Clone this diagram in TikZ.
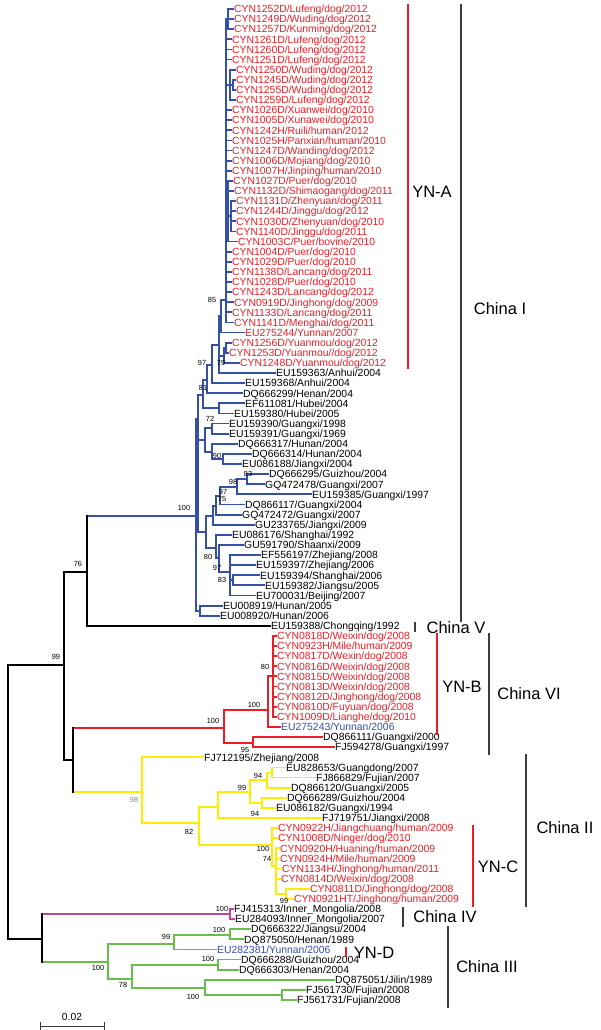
\documentclass[tikz,border=0pt]{standalone}
\usepackage{fontspec}
\setmainfont{Liberation Sans}
\usetikzlibrary{positioning}

\definecolor{cladeblue}{RGB}{52,80,168}
\definecolor{cladered}{RGB}{238,28,36}
\definecolor{cladeyellow}{RGB}{255,236,0}
\definecolor{cladegreen}{RGB}{104,190,72}
\definecolor{clademagenta}{RGB}{182,70,160}
\definecolor{bargray}{RGB}{60,60,60}

\tikzset{
  leaf/.style={anchor=west, inner sep=1pt, font=\fontsize{10.4}{11}\selectfont,
    text height=7.5pt, text depth=0pt},
  redtxt/.style={text=cladered},
  bluetxt/.style={text=cladeblue},
  blacktxt/.style={text=black},
  boot/.style={inner sep=0pt, font=\fontsize{7.4}{8}\selectfont},
  cladename/.style={inner sep=0pt, font=\fontsize{16.5}{18}\selectfont},
  branch/.style={line width=1.8pt, line cap=rect},
  bk/.style={branch, draw=black},
  bl/.style={branch, draw=cladeblue},
  rd/.style={branch, draw=cladered},
  yl/.style={branch, draw=cladeyellow},
  gn/.style={branch, draw=cladegreen},
  mgt/.style={branch, draw=clademagenta},
  groupbar/.style={line width=1.3pt, draw=bargray},
  ynbar/.style={line width=1.1pt, draw=cladered},
}

% one tip of the tree: index, x, text style, label
\newcommand{\tip}[4]{\node[leaf,#3] (t#1) at (#2,{9+(#1-1)*10.112}) {#4};}

\begin{document}
\begin{tikzpicture}[x=1pt, y=-1pt]
\useasboundingbox (0,0) rectangle (600,1030);

% Tips, China I
\tip{1}{233}{redtxt}{CYN1252D/Lufeng/dog/2012}
\tip{2}{233}{redtxt}{CYN1249D/Wuding/dog/2012}
\tip{3}{233}{redtxt}{CYN1257D/Kunming/dog/2012}
\tip{4}{231}{redtxt}{CYN1261D/Lufeng/dog/2012}
\tip{5}{231}{redtxt}{CYN1260D/Lufeng/dog/2012}
\tip{6}{231}{redtxt}{CYN1251D/Lufeng/dog/2012}
\tip{7}{235}{redtxt}{CYN1250D/Wuding/dog/2012}
\tip{8}{235}{redtxt}{CYN1245D/Wuding/dog/2012}
\tip{9}{235}{redtxt}{CYN1255D/Wuding/dog/2012}
\tip{10}{235}{redtxt}{CYN1259D/Lufeng/dog/2012}
\tip{11}{231}{redtxt}{CYN1026D/Xuanwei/dog/2010}
\tip{12}{231}{redtxt}{CYN1005D/Xunawei/dog/2010}
\tip{13}{231}{redtxt}{CYN1242H/Ruili/human/2012}
\tip{14}{231}{redtxt}{CYN1025H/Panxian/human/2010}
\tip{15}{231}{redtxt}{CYN1247D/Wanding/dog/2012}
\tip{16}{231}{redtxt}{CYN1006D/Mojiang/dog/2010}
\tip{17}{231}{redtxt}{CYN1007H/Jinping/human/2010}
\tip{18}{232}{redtxt}{CYN1027D/Puer/dog/2010}
\tip{19}{233}{redtxt}{CYN1132D/Shimaogang/dog/2011}
\tip{20}{235}{redtxt}{CYN1131D/Zhenyuan/dog/2011}
\tip{21}{235}{redtxt}{CYN1244D/Jinggu/dog/2012}
\tip{22}{235}{redtxt}{CYN1030D/Zhenyuan/dog/2010}
\tip{23}{235}{redtxt}{CYN1140D/Jinggu/dog/2011}
\tip{24}{237}{redtxt}{CYN1003C/Puer/bovine/2010}
\tip{25}{231}{redtxt}{CYN1004D/Puer/dog/2010}
\tip{26}{231}{redtxt}{CYN1029D/Puer/dog/2010}
\tip{27}{231}{redtxt}{CYN1138D/Lancang/dog/2011}
\tip{28}{231}{redtxt}{CYN1028D/Puer/dog/2010}
\tip{29}{231}{redtxt}{CYN1243D/Lancang/dog/2012}
\tip{30}{233}{redtxt}{CYN0919D/Jinghong/dog/2009}
\tip{31}{231}{redtxt}{CYN1133D/Lancang/dog/2011}
\tip{32}{233}{redtxt}{CYN1141D/Menghai/dog/2011}
\tip{33}{244}{redtxt}{EU275244/Yunnan/2007}
\tip{34}{231}{redtxt}{CYN1256D/Yuanmou/dog/2012}
\tip{35}{228}{redtxt}{CYN1253D/Yuanmou//dog/2012}
\tip{36}{239}{redtxt}{CYN1248D/Yuanmou/dog/2012}
\tip{37}{275}{blacktxt}{EU159363/Anhui/2004}
\tip{38}{244}{blacktxt}{EU159368/Anhui/2004}
\tip{39}{242}{blacktxt}{DQ666299/Henan/2004}
\tip{40}{244}{blacktxt}{EF611081/Hubei/2004}
\tip{41}{233}{blacktxt}{EU159380/Hubei/2005}
\tip{42}{228}{blacktxt}{EU159390/Guangxi/1998}
\tip{43}{228}{blacktxt}{EU159391/Guangxi/1969}
\tip{44}{237}{blacktxt}{DQ666317/Hunan/2004}
\tip{45}{251}{blacktxt}{DQ666314/Hunan/2004}
\tip{46}{241}{blacktxt}{EU086188/Jiangxi/2004}
\tip{47}{268}{blacktxt}{DQ666295/Guizhou/2004}
\tip{48}{264}{blacktxt}{GQ472478/Guangxi/2007}
\tip{49}{311}{blacktxt}{EU159385/Guangxi/1997}
\tip{50}{244}{blacktxt}{DQ866117/Guangxi/2004}
\tip{51}{241}{blacktxt}{GQ472472/Guangxi/2007}
\tip{52}{254}{blacktxt}{GU233765/Jiangxi/2009}
\tip{53}{231}{blacktxt}{EU086176/Shanghai/1992}
\tip{54}{243}{blacktxt}{GU591790/Shaanxi/2009}
\tip{55}{260}{blacktxt}{EF556197/Zhejiang/2008}
\tip{56}{255}{blacktxt}{EU159397/Zhejiang/2006}
\tip{57}{259}{blacktxt}{EU159394/Shanghai/2006}
\tip{58}{264}{blacktxt}{EU159382/Jiangsu/2005}
\tip{59}{255}{blacktxt}{EU700031/Beijing/2007}
\tip{60}{222}{blacktxt}{EU008919/Hunan/2005}
\tip{61}{219}{blacktxt}{EU008920/Hunan/2006}
% China V
\tip{62}{270}{blacktxt}{EU159388/Chongqing/1992}
% China VI
\tip{63}{276}{redtxt}{CYN0818D/Weixin/dog/2008}
\tip{64}{276}{redtxt}{CYN0923H/Mile/human/2009}
\tip{65}{276}{redtxt}{CYN0817D/Wexin/dog/2008}
\tip{66}{276}{redtxt}{CYN0816D/Weixin/dog/2008}
\tip{67}{276}{redtxt}{CYN0815D/Weixin/dog/2008}
\tip{68}{276}{redtxt}{CYN0813D/Weixin/dog/2008}
\tip{69}{276}{redtxt}{CYN0812D/Jinghong/dog/2008}
\tip{70}{276}{redtxt}{CYN0810D/Fuyuan/dog/2008}
\tip{71}{276}{redtxt}{CYN1009D/Lianghe/dog/2010}
\tip{72}{280}{bluetxt}{EU275243/Yunnan/2006}
\tip{73}{322}{blacktxt}{DQ866111/Guangxi/2000}
\tip{74}{334}{blacktxt}{FJ594278/Guangxi/1997}
% China II
\tip{75}{203}{blacktxt}{FJ712195/Zhejiang/2008}
\tip{76}{285}{blacktxt}{EU828653/Guangdong/2007}
\tip{77}{315}{blacktxt}{FJ866829/Fujian/2007}
\tip{78}{290}{blacktxt}{DQ866120/Guangxi/2005}
\tip{79}{286}{blacktxt}{DQ666289/Guizhou/2004}
\tip{80}{275}{blacktxt}{EU086182/Guangxi/1994}
\tip{81}{321}{blacktxt}{FJ719751/Jiangxi/2008}
\tip{82}{277}{redtxt}{CYN0922H/Jiangchuang/human/2009}
\tip{83}{277}{redtxt}{CYN1008D/Ninger/dog/2010}
\tip{84}{279}{redtxt}{CYN0920H/Huaning/human/2009}
\tip{85}{279}{redtxt}{CYN0924H/Mile/human/2009}
\tip{86}{281}{redtxt}{CYN1134H/Jinghong/human/2011}
\tip{87}{280}{redtxt}{CYN0814D/Weixin/dog/2008}
\tip{88}{309}{redtxt}{CYN0811D/Jinghong/dog/2008}
\tip{89}{293}{redtxt}{CYN0921HT/Jinghong/human/2009}
% China IV
\tip{90}{233}{blacktxt}{FJ415313/Inner\_Mongolia/2008}
\tip{91}{234}{blacktxt}{EU284093/Inner\_Mongolia/2007}
% China III
\tip{92}{250}{blacktxt}{DQ666322/Jiangsu/2004}
\tip{93}{243}{blacktxt}{DQ875050/Henan/1989}
\tip{94}{216}{bluetxt}{EU282381/Yunnan/2006}
\tip{95}{240}{blacktxt}{DQ666288/Guizhou/2004}
\tip{96}{238}{blacktxt}{DQ666303/Henan/2004}
\tip{97}{334}{blacktxt}{DQ875051/Jilin/1989}
\tip{98}{305}{blacktxt}{FJ561730/Fujian/2008}
\tip{99}{296}{blacktxt}{FJ561731/Fujian/2008}

% Internal nodes
\coordinate (root) at (8,802);
\coordinate (n99) at (64,665);
\coordinate (n76) at (87,572);
\coordinate (nC) at (73,760);
\coordinate (nG) at (42,939);
% China I
\coordinate (cI) at (196,516);
\coordinate (cA) at (198,419);
\coordinate (cH) at (200,611);
\coordinate (cB) at (203,395);
\coordinate (c81) at (207,380);
\coordinate (c97) at (212,365);
\coordinate (cU) at (219,345);
\coordinate (c85) at (221,316);
\coordinate (c79) at (224,356);
\coordinate (yY) at (226,348);
\coordinate (yA) at (226,300);
\coordinate (s1) at (228,19);
\coordinate (s2) at (230,85);
\coordinate (s2a) at (233,85);
\coordinate (s3) at (228,205);
\coordinate (s3a) at (231,216);
\coordinate (hb) at (219,408);
\coordinate (g72) at (205,440);
\coordinate (gx) at (212,428);
\coordinate (gD) at (212,452);
\coordinate (g90) at (223,459);
\coordinate (gL) at (206,532);
\coordinate (gG) at (213,516);
\coordinate (n75) at (216,506);
\coordinate (n97b) at (220,496);
\coordinate (n98) at (237,487);
\coordinate (n83) at (247,479);
\coordinate (n53) at (216,548);
\coordinate (n80) at (219,558);
\coordinate (n97c) at (230,572);
\coordinate (n83c) at (233,580);
% China VI
\coordinate (rB) at (224,728);
\coordinate (r100) at (268,710);
\coordinate (r80) at (273,676);
\coordinate (r95) at (253,743);
% China II
\coordinate (y98) at (142,792);
\coordinate (y82) at (199,823);
\coordinate (yT) at (218,807);
\coordinate (y99) at (250,792);
\coordinate (y94a) at (267,780);
\coordinate (yEF) at (272,773);
\coordinate (y94b) at (262,803);
\coordinate (yC) at (272,845);
\coordinate (y74) at (276,866);
\coordinate (y99c) at (286,894);
% China IV and III
\coordinate (mA) at (230,914);
\coordinate (gr) at (108,962);
\coordinate (g99) at (174,944);
\coordinate (g100a) at (230,935);
\coordinate (g78) at (132,979);
\coordinate (g100b) at (218,965);
\coordinate (g100c) at (205,988);
\coordinate (gF) at (282,995);

% Branches
\foreach \c in {s1,t4,t5,t6,s2,t11,t12,t13,t14,t15,t16,t17,s3,t25,t26,t27,t28,t29,t30,t31,t32}
  \draw[bl] (yA) |- (\c);
\foreach \c in {t1,t2,t3} \draw[bl] (s1) |- (\c);
\foreach \c in {t7,s2a,t10} \draw[bl] (s2) |- (\c);
\foreach \c in {t8,t9} \draw[bl] (s2a) |- (\c);
\foreach \c in {t18,t19,s3a,t24} \draw[bl] (s3) |- (\c);
\foreach \c in {t20,t21,t22,t23} \draw[bl] (s3a) |- (\c);
\foreach \c in {yA,t33} \draw[bl] (c85) |- (\c);
\foreach \c in {t34,t35} \draw[bl] (yY) |- (\c);
\foreach \c in {yY,t36} \draw[bl] (c79) |- (\c);
\foreach \c in {c85,c79,t37} \draw[bl] (cU) |- (\c);
\foreach \c in {cU,t38} \draw[bl] (c97) |- (\c);
\foreach \c in {c97,t39} \draw[bl] (c81) |- (\c);
\foreach \c in {t40,t41} \draw[bl] (hb) |- (\c);
\foreach \c in {c81,hb} \draw[bl] (cB) |- (\c);
\foreach \c in {t42,t43} \draw[bl] (gx) |- (\c);
\foreach \c in {t45,t46} \draw[bl] (g90) |- (\c);
\foreach \c in {t44,g90} \draw[bl] (gD) |- (\c);
\foreach \c in {gx,gD} \draw[bl] (g72) |- (\c);
\foreach \c in {t47,t48} \draw[bl] (n83) |- (\c);
\foreach \c in {n83,t49} \draw[bl] (n98) |- (\c);
\foreach \c in {n98,t50} \draw[bl] (n97b) |- (\c);
\foreach \c in {n97b,t51} \draw[bl] (n75) |- (\c);
\foreach \c in {n75,t52} \draw[bl] (gG) |- (\c);
\foreach \c in {t57,t58} \draw[bl] (n83c) |- (\c);
\foreach \c in {t55,t56,n83c,t59} \draw[bl] (n97c) |- (\c);
\foreach \c in {t54,n97c} \draw[bl] (n80) |- (\c);
\foreach \c in {t53,n80} \draw[bl] (n53) |- (\c);
\foreach \c in {gG,n53} \draw[bl] (gL) |- (\c);
\foreach \c in {cB,g72,gL} \draw[bl] (cA) |- (\c);
\foreach \c in {t60,t61} \draw[bl] (cH) |- (\c);
\foreach \c in {cA,cH} \draw[bl] (cI) |- (\c);

\foreach \c in {t63,t64,t65,t66,t67,t68,t69,t70,t71} \draw[rd] (r80) |- (\c);
\foreach \c in {r80,t72} \draw[rd] (r100) |- (\c);
\foreach \c in {t73,t74} \draw[rd] (r95) |- (\c);
\foreach \c in {r100,r95} \draw[rd] (rB) |- (\c);

\foreach \c in {t76,t77} \draw[yl] (yEF) |- (\c);
\foreach \c in {yEF,t78} \draw[yl] (y94a) |- (\c);
\foreach \c in {t79,t80} \draw[yl] (y94b) |- (\c);
\foreach \c in {y94a,y94b} \draw[yl] (y99) |- (\c);
\foreach \c in {y99,t81} \draw[yl] (yT) |- (\c);
\foreach \c in {t88,t89} \draw[yl] (y99c) |- (\c);
\foreach \c in {t84,t85,t86,t87,y99c} \draw[yl] (y74) |- (\c);
\foreach \c in {t82,t83,y74} \draw[yl] (yC) |- (\c);
\foreach \c in {yT,yC} \draw[yl] (y82) |- (\c);
\foreach \c in {t75,y82} \draw[yl] (y98) |- (\c);

\foreach \c in {t90,t91} \draw[mgt] (mA) |- (\c);
\foreach \c in {t92,t93} \draw[gn] (g100a) |- (\c);
\foreach \c in {g100a,t94} \draw[gn] (g99) |- (\c);
\foreach \c in {t95,t96} \draw[gn] (g100b) |- (\c);
\foreach \c in {t98,t99} \draw[gn] (gF) |- (\c);
\foreach \c in {t97,gF} \draw[gn] (g100c) |- (\c);
\foreach \c in {g100b,g100c} \draw[gn] (g78) |- (\c);
\foreach \c in {g99,g78} \draw[gn] (gr) |- (\c);

% coloured stems off the black backbone
\draw[bl] (n76 |- cI) -- (cI);
\draw[rd] (nC |- rB) -- (rB);
\draw[yl] (nC |- y98) -- (y98);
\draw[mgt] (nG |- mA) -- (mA);
\draw[gn] (nG |- gr) -- (gr);

% Backbone
\draw[bk] (root) |- (n99);
\draw[bk] (root) |- (nG);
\draw[bk] (n99) |- (n76);
\draw[bk] (n99) |- (nC);
\draw[bk] (n76) |- (t62);
\draw[bk] (n76) -- (n76 |- cI);
\draw[bk] (nC |- rB) -- (nC |- y98);
\draw[bk] (nG |- mA) -- (nG |- gr);

% Bootstrap values
\node[boot] (bv1) at (212,300) {85};
\node[boot] (bv2) at (202,363) {97};
\node[boot] (bv3) at (221,363) {79};
\node[boot] (bv4) at (203,388) {81};
\node[boot] (bv5) at (210,419) {72};
\node[boot] (bv6) at (217,456) {90};
\node[boot] (bv7) at (248,474) {83};
\node[boot] (bv8) at (233,482) {98};
\node[boot] (bv9) at (223,492) {97};
\node[boot] (bv10) at (222,499) {75};
\node[boot] (bv11) at (184,508) {100};
\node[boot] (bv12) at (208,557) {80};
\node[boot] (bv13) at (217,568) {97};
\node[boot] (bv14) at (222,580) {83};
\node[boot] (bv15) at (78,564) {76};
\node[boot] (bv16) at (56,657) {99};
\node[boot] (bv17) at (265,667) {80};
\node[boot] (bv18) at (254,705) {100};
\node[boot] (bv19) at (213,721) {100};
\node[boot] (bv20) at (245,750) {95};
\node[boot, text=gray] (bv21) at (134,800) {98};
\node[boot] (bv22) at (258,776) {94};
\node[boot] (bv23) at (242,788) {99};
\node[boot] (bv24) at (255,814) {94};
\node[boot] (bv25) at (189,832) {82};
\node[boot] (bv26) at (263,849) {100};
\node[boot] (bv27) at (267,859) {74};
\node[boot] (bv28) at (284,901) {99};
\node[boot] (bv29) at (222,909) {100};
\node[boot] (bv30) at (219,930) {100};
\node[boot] (bv31) at (166,937) {99};
\node[boot] (bv32) at (98,968) {100};
\node[boot] (bv33) at (208,959) {100};
\node[boot] (bv34) at (123,985) {78};
\node[boot] (bv35) at (193,997) {100};

% Clade bars
\draw[ynbar] (408,4) -- (408,369);
\node[cladename] (ynA) at (432,192) {YN-A};
\draw[groupbar] (461,4) -- (461,622);
\node[cladename] (chI) at (500,309) {China I};
\draw[groupbar] (415,622) -- (415,632);
\node[cladename] (chV) at (456,628) {China V};
\draw[ynbar] (437,633) -- (437,735);
\node[cladename] (ynB) at (462,687) {YN-B};
\draw[groupbar] (489,633) -- (489,755);
\node[cladename] (chVI) at (529,694) {China VI};
\draw[groupbar] (526,754) -- (526,907);
\node[cladename] (chII) at (565,828) {China II};
\draw[ynbar] (473,825) -- (473,907);
\node[cladename] (ynC) at (498,867) {YN-C};
\draw[groupbar] (403,907) -- (403,927);
\node[cladename] (chIV) at (445,917) {China IV};
\draw[ynbar] (346,947) -- (346,957);
\node[cladename] (ynD) at (374,953) {YN-D};
\draw[groupbar] (448,926) -- (448,1008);
\node[cladename] (chIII) at (487,967) {China III};

% Scale bar
\draw[line width=0.8pt, draw=bargray] (40,1026) -- (104,1026);
\draw[line width=0.8pt, draw=bargray] (40,1022) -- (40,1030);
\draw[line width=0.8pt, draw=bargray] (104,1022) -- (104,1030);
\node[inner sep=0pt, font=\fontsize{10.3}{11}\selectfont] (sbar) at (72,1017) {0.02};

\end{tikzpicture}
\end{document}
